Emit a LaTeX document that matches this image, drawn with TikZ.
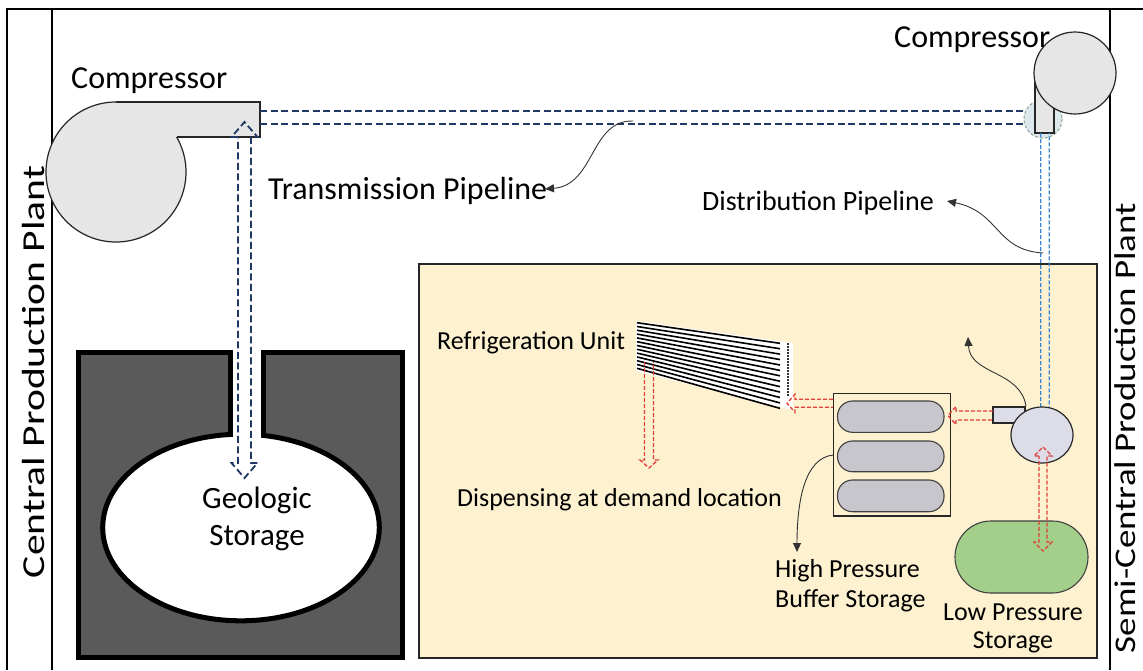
\documentclass[tikz,border=0pt]{standalone}
\usepackage{fontspec}
\setmainfont{Carlito}
\usetikzlibrary{arrows.meta}

\definecolor{navy}{HTML}{1F3864}
\definecolor{pipeblue}{HTML}{3A86D0}
\definecolor{pipered}{HTML}{E0403A}
\definecolor{sitebg}{HTML}{FDF1D0}
\definecolor{rock}{HTML}{5A5A5A}
\definecolor{unitgray}{HTML}{E6E6E6}
\definecolor{smallunit}{HTML}{DCDDE6}
\definecolor{tankgray}{HTML}{C6C6CC}
\definecolor{tankgreen}{HTML}{A3CF8A}
\definecolor{jointfill}{HTML}{DDE7EE}
\definecolor{jointedge}{HTML}{9AB0A0}

% hollow double-headed vertical arrow: style, x, top tip, bottom tip, shaft half width, head half width, head length
\newcommand{\vdoublearrow}[7]{%
  \draw[#1] ({#2-#5},{#3+#7}) -- ({#2-#6},{#3+#7}) -- (#2,#3) -- ({#2+#6},{#3+#7}) -- ({#2+#5},{#3+#7})
    -- ({#2+#5},{#4-#7}) -- ({#2+#6},{#4-#7}) -- (#2,#4) -- ({#2-#6},{#4-#7}) -- ({#2-#5},{#4-#7}) -- cycle;}
% hollow downward arrow, open at its start: style, x, start, tip, shaft half width, head half width, head length
\newcommand{\vdownarrow}[7]{%
  \draw[#1] ({#2-#5},#3) -- ({#2-#5},{#4-#7}) -- ({#2-#6},{#4-#7}) -- (#2,#4) -- ({#2+#6},{#4-#7}) -- ({#2+#5},{#4-#7}) -- ({#2+#5},#3);}
% hollow leftward arrow, open at its start: style, start x, tip x, y, shaft half width, head half width, head length
\newcommand{\hleftarrow}[7]{%
  \draw[#1] (#2,{#4-#5}) -- ({#3+#7},{#4-#5}) -- ({#3+#7},{#4-#6}) -- (#3,#4) -- ({#3+#7},{#4+#6}) -- ({#3+#7},{#4+#5}) -- (#2,{#4+#5});}

\begin{document}
\begin{tikzpicture}[x=1pt,y=-1pt,
  frame/.style={line width=1.4pt, black},
  navypipe/.style={navy, line width=1.8pt, dash pattern=on 7pt off 3.5pt},
  bluepipe/.style={pipeblue, line width=1.3pt, dash pattern=on 4pt off 2pt},
  redpipe/.style={pipered, line width=1.3pt, dash pattern=on 4pt off 2pt},
  pointer/.style={draw=black!80, line width=0.9pt, -{Triangle[length=9pt,width=8pt]}},
  unit/.style={draw=black!85, line width=1.2pt},
  lbl/.style={inner sep=0pt, text=black},
  bigtxt/.style={lbl, font=\fontsize{32}{38}\selectfont},
  midtxt/.style={lbl, font=\fontsize{28}{32}\selectfont},
  smalltxt/.style={lbl, font=\fontsize{26}{29}\selectfont}]

\useasboundingbox (0,0) rectangle (1143,670);
\fill[white] (0,0) rectangle (1143,670);

% outer frame and side bands
\draw[frame] (7,670) -- (7,9) -- (1143,9);
\draw[frame] (52,9) -- (52,670);
\draw[frame] (1110,9) -- (1110,670);

% semi-central site
\draw[fill=sitebg, draw=black!85, line width=1.4pt] (419,264) rectangle (1097,658);

% geologic storage cavern
\draw[line width=5pt, fill=rock] (78,352) rectangle (402.5,657);
\draw[line width=5pt, fill=white] (241,527.5) ellipse (138.3 and 93.3);
\fill[white] (232.5,346) rectangle (260.5,440);
\draw[line width=5pt] (230,349.5) -- (230,437);
\draw[line width=5pt] (263,349.5) -- (263,437);

% central compressor
\draw[unit, fill=unitgray] (116,172) circle (70);
\fill[unitgray] (116,102) rectangle (260,137);
\draw[unit] (116,102) -- (260,102) -- (260,137) -- (176.6,137);

% transmission pipeline
\draw[navypipe] (260,111) -- (1025,111);
\draw[navypipe] (260,124) -- (1025,124);
\vdoublearrow{navypipe}{244.5}{122}{478}{6.5}{13}{15}

% semi-central compressor at the pipeline end
\draw[draw=jointedge, fill=jointfill, line width=1.2pt, dash pattern=on 3pt off 2pt] (1043,119) circle (19);
\draw[unit, fill=unitgray] (1035,73) rectangle (1054,133);
\draw[unit, fill=unitgray] (1075,73) circle (41);

% distribution pipeline
\vdownarrow{bluepipe}{1045}{133}{436}{4.3}{9}{20}

% refrigeration unit
\fill[white] (636,321) -- (793,343) -- (793,410) -- (636,371) -- cycle;
\foreach \i in {0,...,12}
  \draw[black, line width=1.6pt] (637,{322.7+\i*3.8}) -- (780,{343.3+\i*5.42});
\draw[black!80, line width=1.5pt, dash pattern=on 1.5pt off 1.5pt] (788,343) -- (788,397);

% high pressure buffer storage
\draw[unit, fill=none] (833.5,393.5) rectangle (950.5,516);
\foreach \ya/\yb in {401/432.3, 441/471.7, 480/511.7}
  \draw[draw=black!75, line width=1.1pt, fill=tankgray, rounded corners=15pt] (837.5,\ya) rectangle (944,\yb);

% low pressure storage
\draw[draw=black!75, line width=1.1pt, fill=tankgreen, rounded corners=35.9pt] (955,521) rectangle (1088,593);

% booster compressor
\draw[unit, fill=smallunit] (993,407) rectangle (1025,423);
\draw[unit, fill=smallunit] (1042,435) ellipse (31 and 28);

% hydrogen flows on site
\hleftarrow{redpipe}{993}{948}{415.5}{4.5}{9}{8}
\hleftarrow{redpipe}{833}{787}{403.3}{4}{9}{8}
\vdownarrow{redpipe}{649}{362}{468}{4.5}{9}{8}
\vdoublearrow{redpipe}{1043}{447}{551}{4}{9}{9}

% labels
\node[bigtxt, anchor=base west] (compL) at (71,88) {Compressor};
\node[bigtxt, anchor=base west] (compR) at (894,47) {Compressor};
\node[bigtxt, anchor=base west] (trans) at (268,199) {Transmission Pipeline};
\node[midtxt, anchor=base west] (dist) at (702,210) {Distribution Pipeline};
\node[smalltxt, anchor=base west] (refr) at (437,349) {Refrigeration Unit};
\node[smalltxt, anchor=base west] (disp) at (457,506) {Dispensing at demand location};
\node[smalltxt, anchor=base west] (hp1) at (775,577) {High Pressure};
\node[smalltxt, anchor=base west] (hp2) at (775,607) {Buffer Storage};
\node[smalltxt, anchor=base] (lp1) at (1013,620) {Low Pressure};
\node[smalltxt, anchor=base] (lp2) at (1013,648) {Storage};
\node[bigtxt, font=\fontsize{31}{37}\selectfont, anchor=base] (geo1) at (257,508) {Geologic};
\node[bigtxt, font=\fontsize{31}{37}\selectfont, anchor=base] (geo2) at (257,545) {Storage};
\node[bigtxt, anchor=base, rotate=90] (central) at (44,372) {\scalebox{1.3}[1]{Central Production Plant}};
\node[bigtxt, font=\fontsize{30}{36}\selectfont, anchor=base, rotate=90] (semi) at (1135,428) {\scalebox{1.23}[1]{Semi-Central Production Plant}};

% pointer arrows
\coordinate (trFrom) at (633,121);
\coordinate (trTip) at (545,189);
\coordinate (diFrom) at (1043,253);
\coordinate (diTip) at (947,201);
\coordinate (bcFrom) at (1026,406);
\coordinate (bcTip) at (968,337);
\coordinate (hpFrom) at (833,455);
\coordinate (hpTip) at (797,552);
\draw[pointer] (trFrom) .. controls (590,120) and (595,185) .. (trTip);
\draw[pointer] (diFrom) .. controls (995,250) and (1000,212) .. (diTip);
\draw[pointer] (bcFrom) .. controls (1020,370) and (970,375) .. (bcTip);
\draw[pointer] (hpFrom) .. controls (805,458) and (797,500) .. (hpTip);

\end{tikzpicture}
\end{document}
